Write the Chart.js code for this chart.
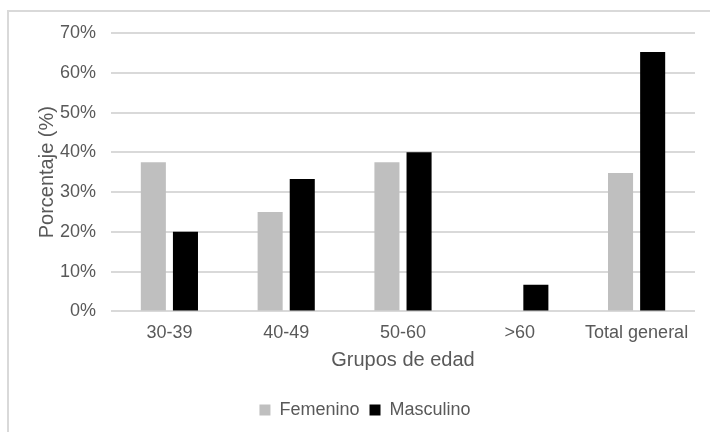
<!DOCTYPE html>
<html>
<head>
<meta charset="utf-8">
<script src="https://cdn.jsdelivr.net/npm/chart.js@4"></script>
<style>
  body { margin: 0; background: #fff; }
  #wrap { position: relative; width: 710px; height: 432px; overflow: hidden; }
  #frame { position: absolute; left: 7px; top: 10px; width: 740px; height: 460px; border: 2px solid #d9d9d9; box-sizing: border-box; }
  #chart { position: absolute; left: 0; top: 0; }
</style>
</head>
<body>
<div id="wrap">
  <div id="frame"></div>
  <canvas id="chart" width="710" height="432"></canvas>
</div>
<script>
const categories = ['30-39', '40-49', '50-60', '>60', 'Total general'];
const femenino = [37.5, 25.0, 37.5, 0, 34.8];
const masculino = [20.0, 33.3, 40.0, 6.7, 65.2];
const yTicks = [0, 10, 20, 30, 40, 50, 60, 70];

const FONT = 'Arial, "Liberation Sans", sans-serif';
const TEXT = '#595959';

new Chart(document.getElementById('chart'), {
    type: 'bar',
    data: {
        labels: categories,
        datasets: [
            { label: 'Femenino', data: femenino, backgroundColor: '#bfbfbf' },
            { label: 'Masculino', data: masculino, backgroundColor: '#000000' }
        ]
    },
    options: {
        responsive: false,
        animation: false,
        datasets: { bar: { categoryPercentage: 0.55, barPercentage: 0.78 } },
        layout: { padding: { left: 35, right: 15, top: 33, bottom: 3 } },
        plugins: {
            tooltip: { enabled: false },
            legend: {
                position: 'bottom',
                labels: {
                    color: TEXT,
                    font: { family: FONT, size: 18 },
                    boxWidth: 11,
                    boxHeight: 11,
                    padding: 10
                }
            }
        },
        scales: {
            x: {
                grid: { display: false, drawTicks: false },
                border: { display: false },
                ticks: { color: TEXT, font: { family: FONT, size: 18 }, padding: 11, maxRotation: 0 },
                title: {
                    display: true, text: 'Grupos de edad', color: TEXT,
                    font: { family: FONT, size: 20 }, padding: { top: -7, bottom: 19 }
                }
            },
            y: {
                min: 0,
                max: 70,
                afterBuildTicks: scale => { scale.ticks = yTicks.map(v => ({ value: v })); },
                afterFit: scale => { scale.width = 76; },
                grid: { color: '#d9d9d9', lineWidth: 2, drawTicks: false },
                border: { display: false },
                ticks: { color: TEXT, font: { family: FONT, size: 18 }, padding: 15, callback: v => v + '%' },
                title: {
                    display: true, text: 'Porcentaje (%)', color: TEXT,
                    font: { family: FONT, size: 20 }, padding: { top: 0, bottom: 0 }
                }
            }
        }
    }
});
</script>
</body>
</html>
